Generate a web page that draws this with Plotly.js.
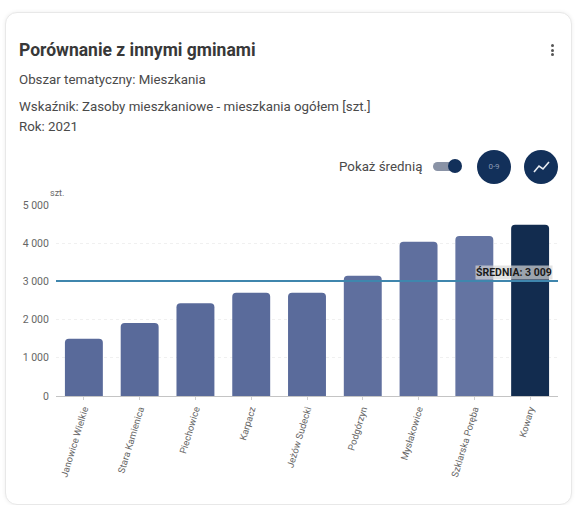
<!DOCTYPE html>
<html lang="pl"><head><meta charset="utf-8">
<script src="https://cdn.plot.ly/plotly-3.0.1.min.js"></script>
<style>
html,body{margin:0;padding:0;background:#fff;width:579px;height:505px;overflow:hidden;font-family:Roboto,sans-serif}
#card{position:absolute;left:5px;top:12px;width:565px;height:491px;border:1px solid #e8e8e8;border-radius:12px;box-shadow:0 0 4px rgba(0,0,0,.07);background:#fff}
#chart{position:absolute;left:0;top:0;width:579px;height:505px}
.t{position:absolute;white-space:nowrap;color:#4a4a4a;font-size:13.3px;line-height:14px}
#title{left:19px;top:42px;font-size:17.5px;font-weight:700;color:#383838;line-height:16px}
.dots{position:absolute;left:551px;top:44px;width:3px}
.dots i{display:block;width:3px;height:3px;background:#555;border-radius:50%;margin-bottom:1.5px}
#track{position:absolute;left:433px;top:162px;width:24px;height:9px;border-radius:4.5px;background:#8a93a6}
#knob{position:absolute;left:448px;top:159px;width:14px;height:14px;border-radius:50%;background:#12305a}
.btn{position:absolute;top:150px;width:34px;height:34px;border-radius:50%;background:#12305a;color:#8d9bb5;font-size:8px;text-align:center;line-height:34px}
</style></head><body>
<div id="card"></div>
<div id="chart"></div>
<div class="t" id="title">Porównanie z innymi gminami</div>
<div class="dots"><i></i><i></i><i></i></div>
<div class="t" style="left:19px;top:73px">Obszar tematyczny: Mieszkania</div>
<div class="t" style="left:19px;top:100px">Wskaźnik: Zasoby mieszkaniowe - mieszkania ogółem [szt.]</div>
<div class="t" style="left:19px;top:120px">Rok: 2021</div>
<div class="t" style="left:339px;top:160px">Pokaż średnią</div>
<div id="track"></div><div id="knob"></div>
<div class="btn" style="left:477px">0-9</div>
<div class="btn" style="left:524px"><svg width="34" height="34" viewBox="0 0 34 34" style="display:block"><path d="M10 22 L15 16 L19 19 L25 12" fill="none" stroke="#e8ecf2" stroke-width="1.6"/></svg></div>
<script>
const categories=["Janowice Wielkie","Stara Kamienica","Piechowice","Karpacz","Jeżów Sudecki","Podgórzyn","Mysłakowice","Szklarska Poręba","Kowary"];
const values=[1500,1910,2430,2700,2700,3150,4040,4190,4480];
const average=3009;
const averageLabel="ŚREDNIA: 3 009";
const barColors=["#596a9a","#596a9a","#596a9a","#5a6b9b","#5a6b9b","#5f6f9e","#5f6f9e","#6474a2","#122c4f"];
const tickVals=[0,1000,2000,3000,4000,5000];
const tickText=["0","1 000","2 000","3 000","4 000","5 000"];
Plotly.newPlot('chart',[{type:'bar',x:categories,y:values,marker:{color:barColors,cornerradius:4},width:0.68,hoverinfo:'x+y'}],{
 width:579,height:505,margin:{l:56,r:21,t:205,b:109},paper_bgcolor:'rgba(0,0,0,0)',plot_bgcolor:'rgba(0,0,0,0)',showlegend:false,
 font:{family:'Roboto, sans-serif',size:9,color:'#555'},
 xaxis:{type:'category',tickangle:-73,ticks:'outside',ticklen:3,tickcolor:'#cfcfcf',tickfont:{size:9.5,color:'#666'},linecolor:'#c4c4c4',showline:true,automargin:false,fixedrange:true},
 yaxis:{range:[0,5000],tickvals:tickVals,ticktext:tickText,ticks:'outside',ticklen:4,tickcolor:'rgba(0,0,0,0)',tickfont:{size:10.5,color:'#666'},gridcolor:'#f0f0f0',griddash:'dot',zeroline:false,automargin:false,fixedrange:true},
 shapes:[{type:'line',xref:'paper',x0:0,x1:1,yref:'y',y0:average,y1:average,line:{color:'#3f86ad',width:2}}],
 annotations:[
  {xref:'paper',yref:'y',x:0.912,y:average,yshift:9,xanchor:'center',yanchor:'middle',text:averageLabel,showarrow:false,font:{size:10.5,color:'#1a1a1a',weight:700},bgcolor:'rgba(215,215,215,.7)',borderpad:0},
  {xref:'paper',yref:'y',x:0,y:5000,xshift:-8,yshift:12,xanchor:'left',yanchor:'middle',text:'szt.',showarrow:false,font:{size:9,color:'#666'}}
 ]
},{displayModeBar:false});
</script></body></html>
